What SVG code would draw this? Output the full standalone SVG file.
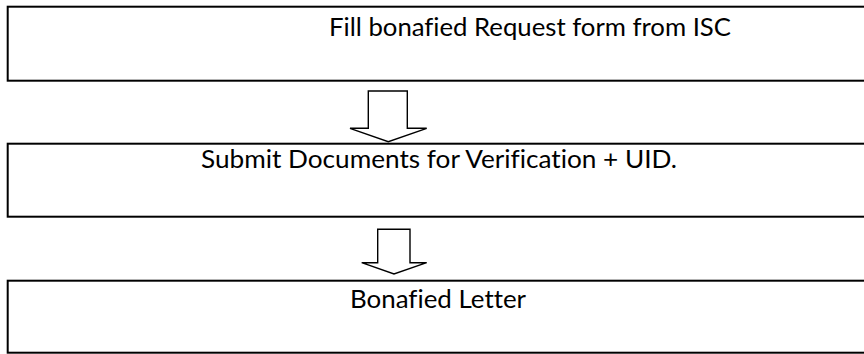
<svg xmlns="http://www.w3.org/2000/svg" width="864" height="354" viewBox="0 0 864 354">
<style>
.box{fill:#ffffff;stroke:#000000;stroke-width:2}
.lbl{font-family:Lato,"Liberation Sans",Arial,sans-serif;font-size:25px;fill:#000000;font-variant-ligatures:none;font-feature-settings:"liga" 0,"dlig" 0}
.arr{fill:#ffffff;stroke:#000000;stroke-width:1.4;stroke-linejoin:miter}
</style>
<rect x="0" y="0" width="864" height="354" fill="#ffffff"/>
<g id="node1">
<rect class="box" x="7.7" y="6.7" width="870" height="74"/>
<text class="lbl" x="329" y="36" textLength="402" lengthAdjust="spacingAndGlyphs">Fill bonafied Request form from ISC</text>
</g>
<g id="node2">
<rect class="box" x="7.7" y="143.7" width="870" height="73"/>
<text class="lbl" x="201" y="167.5" textLength="476" lengthAdjust="spacingAndGlyphs">Submit Documents for Verification + UID.</text>
</g>
<g id="node3">
<rect class="box" x="7.7" y="280.7" width="870" height="72"/>
<text class="lbl" x="350" y="308.3" textLength="176" lengthAdjust="spacingAndGlyphs">Bonafied Letter</text>
</g>
<g id="connectors">
<polygon class="arr" points="368.3,91 407.3,91 407.3,128.3 426.7,128.3 388.3,141.7 350,128.3 368.3,128.3"/>
<polygon class="arr" points="377.7,229.3 410,229.3 410,262.7 426.7,262.7 394,274 361.7,262.7 377.7,262.7"/>
</g>
</svg>
